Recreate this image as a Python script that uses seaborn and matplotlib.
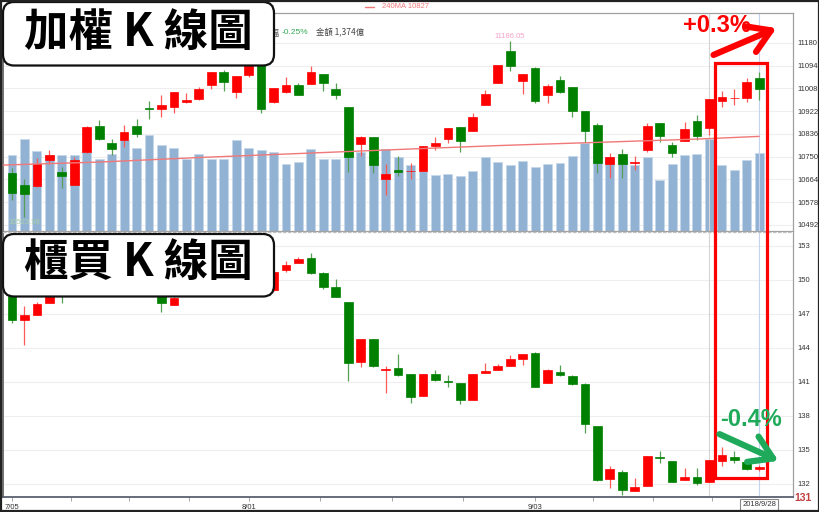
import matplotlib
matplotlib.use('Agg')
import matplotlib.pyplot as plt
import seaborn as sns
import numpy as np
import pandas as pd
from matplotlib.patches import FancyBboxPatch, Rectangle, FancyArrowPatch

sns.set_theme(style='white')
plt.rcParams['font.family'] = ['Liberation Sans', 'Noto Sans CJK TC', 'DejaVu Sans']

# ---------------- data ----------------
x_labels = ['7/05', '8/01', '9/03']
x_label_pos = [0, 19, 42]
last_date = '2018/9/28'

twse_open = [10689.7, 10644.3, 10639.4, 10737.7, 10692.3, 10644.3, 10769.1, 10866.2, 10800.8, 10812.2,
             10866.2, 10932.4, 10930.5, 10938.0, 10957.0, 10968.3, 11022.3, 11069.2, 10995.9, 11059.0,
             11108.1, 10955.8, 10994.7, 11022.3, 11026.1, 11062.8, 11006.1, 10938.0, 10798.2, 10824.6,
             10664.7, 10699.9, 10695.4, 10697.3, 10790.6, 10818.2, 10863.6, 10848.5, 10945.6, 11027.6,
             11150.9, 11036.3, 11085.5, 10982.3, 11039.0, 11013.6, 10921.8, 10868.9, 10723.7, 10760.4,
             10726.4, 10775.5, 10878.7, 10793.3, 10810.7, 10884.0, 10857.5, 10959.6, 10970.2, 10973.2, 11047.7]
twse_close = [10611.8, 10609.2, 10721.4, 10755.5, 10677.2, 10736.6, 10862.4, 10817.1, 10779.3, 10842.4,
              10834.8, 10930.5, 10944.5, 10993.6, 10963.4, 11006.1, 11071.5, 11032.5, 11055.2, 11096.8,
              10929.3, 11008.7, 11022.3, 10983.4, 11071.5, 11027.6, 10983.4, 10747.9, 10823.5, 10717.7,
              10683.6, 10692.3, 10697.0, 10790.6, 10800.8, 10859.8, 10810.7, 10899.1, 10986.0, 11097.9,
              11093.0, 11062.8, 10960.7, 11018.6, 10994.7, 10922.9, 10848.5, 10725.2, 10750.2, 10722.6,
              10728.3, 10866.2, 10828.4, 10763.0, 10856.0, 10829.6, 10969.4, 10974.7, 10971.3, 11032.5, 11005.0]
twse_high = [10708.6, 10664.7, 10744.1, 10775.5, 10712.4, 10750.2, 10865.0, 10887.8, 10817.1, 10870.0,
             10893.8, 10960.7, 10982.3, 10994.0, 10989.8, 11014.8, 11072.0, 11077.9, 11056.0, 11115.0,
             11120.0, 11009.0, 11050.3, 11027.6, 11093.0, 11063.0, 11029.9, 10938.0, 10828.4, 10825.0,
             10722.6, 10751.0, 10727.5, 10791.0, 10825.8, 10860.0, 10864.0, 10914.2, 11002.3, 11098.0,
             11186.05, 11063.0, 11090.4, 11023.9, 11055.2, 11014.0, 10922.0, 10876.4, 10763.0, 10778.1,
             10752.8, 10876.4, 10879.0, 10806.9, 10882.5, 10906.7, 10970.0, 10999.7, 11005.0, 11048.8, 11069.2]
twse_low = [10586.5, 10523.58, 10636.8, 10722.6, 10633.0, 10642.1, 10766.0, 10815.0, 10756.6, 10785.7,
            10824.6, 10891.5, 10899.1, 10916.5, 10952.0, 10964.5, 11006.1, 10998.5, 10973.2, 11050.3,
            10916.5, 10955.0, 10992.0, 10983.0, 11026.0, 10998.5, 10968.3, 10691.2, 10754.0, 10687.4,
            10605.4, 10677.0, 10664.7, 10697.0, 10775.5, 10800.8, 10769.1, 10848.0, 10945.0, 11027.0,
            11075.3, 10987.2, 10952.0, 10954.3, 10989.8, 10901.4, 10806.9, 10687.4, 10670.8, 10668.5,
            10699.9, 10769.1, 10806.9, 10750.2, 10810.0, 10813.3, 10832.2, 10939.2, 10945.6, 10958.1, 10964.5]
twse_volume = [1333, 1629, 1409, 1333, 1333, 1333, 1397, 1272, 1356, 1606,
               1463, 1695, 1522, 1468, 1261, 1350, 1272, 1272, 1606, 1468,
               1433, 1386, 1172, 1213, 1445, 1272, 1267, 1427, 1386, 1308,
               1445, 1302, 1154, 1053, 981, 1012, 969, 1065, 1302, 1213,
               1160, 1226, 1129, 1183, 1190, 1320, 1547, 1427, 1308, 1284,
               1160, 1297, 904, 1177, 1338, 1356, 1618, 1160, 1083, 1243, 1374]
ma240_pos = [-0.72, 7.1, 15.1, 23.1, 32.0, 39.2, 47.2, 55.2, 60]
ma240_val = [10718.5, 10730.1, 10747.2, 10762.3, 10779.3, 10792.5, 10804.6, 10817.1, 10827]

otc_open = [149.36, 146.42, 146.89, 147.92, 149.2, 148.7, 149.3, 150.2, 149.8, 150.3,
            150.6, 150.1, 149.6, 147.74, 148.6, 149.3, 149.8, 150.4, 150.0, 150.3,
            150.9, 149.09, 150.85, 151.5, 151.89, 150.56, 149.33, 148.06, 142.72, 144.75,
            142.07, 142.25, 141.67, 139.75, 141.69, 141.03, 140.87, 139.37, 141.75, 142.04,
            142.4, 143.01, 143.52, 140.87, 141.87, 141.52, 140.81, 137.14, 132.47, 133.03,
            131.41, 131.85, 134.38, 134.05, 132.35, 132.59, 132.2, 134.05, 134.41, 133.96, 133.3]
otc_close = [146.45, 146.86, 147.83, 148.6, 148.7, 149.3, 150.2, 149.8, 150.3, 150.6,
             150.1, 149.6, 147.95, 148.36, 149.3, 149.8, 150.4, 150.0, 150.3, 150.9,
             149.1, 150.7, 151.3, 151.8, 150.56, 149.38, 148.45, 142.63, 144.75, 142.4,
             142.1, 141.58, 139.69, 141.69, 141.16, 141.0, 139.4, 141.69, 141.96, 142.4,
             142.99, 143.45, 140.57, 142.04, 141.6, 140.81, 137.29, 132.35, 133.3, 131.47,
             131.76, 134.47, 134.32, 132.2, 132.59, 132.06, 134.11, 134.56, 134.11, 133.3, 133.52]
otc_high = [149.6, 147.71, 148.0, 148.8, 149.4, 149.5, 150.4, 150.5, 150.5, 150.8,
            150.8, 150.3, 149.8, 148.5, 149.5, 150.0, 150.6, 150.6, 150.5, 151.1,
            151.0, 150.8, 151.67, 151.97, 152.33, 150.65, 150.04, 148.06, 144.75, 144.75,
            142.42, 143.43, 141.7, 141.7, 142.04, 141.6, 140.9, 141.69, 142.69, 142.57,
            143.37, 143.45, 143.6, 142.1, 142.48, 141.63, 140.93, 137.14, 133.59, 133.23,
            132.5, 134.47, 134.91, 134.05, 133.44, 133.38, 134.11, 135.23, 134.91, 134.18, 133.65]
otc_low = [146.2, 144.25, 146.89, 147.9, 147.97, 148.6, 149.2, 149.6, 149.7, 150.2,
           149.9, 149.4, 147.18, 147.74, 148.55, 149.2, 149.7, 149.8, 149.9, 150.2,
           149.0, 149.0, 150.7, 151.45, 150.48, 149.15, 148.45, 141.07, 142.33, 142.28,
           139.99, 141.5, 139.11, 139.75, 141.07, 140.57, 139.05, 139.37, 141.75, 142.04,
           142.4, 142.48, 140.52, 140.87, 141.52, 140.72, 136.47, 132.29, 131.62, 131.03,
           131.41, 131.85, 133.88, 132.15, 132.35, 131.91, 132.2, 133.59, 133.88, 133.23, 133.17]

top_ticks = [10492, 10578, 10664, 10750, 10836, 10922, 11008, 11094, 11180]
bot_ticks = [132, 135, 138, 141, 144, 147, 150, 153]
minor_tick_pos = [4.74, 9.39, 14.21, 24.73, 30.51, 36.21, 46.65, 51.47, 56.2]

# ---------------- layout ----------------
W, H = 820, 512
fig = plt.figure(figsize=(8.2, 5.12), dpi=100)
fig.patch.set_facecolor('white')


def rect(x0, y0, x1, y1):
    return [x0 / W, 1 - y1 / H, (x1 - x0) / W, (y1 - y0) / H]


XLIM = (-0.723, 62.71)
TOP_YLIM = (10469.3, 11293.4)
BOT_YLIM = (130.85, 154.2)
VOL_YLIM = (0, 3840)

RED, GREEN = '#ff0000', '#008000'
RED_W, GREEN_W = '#ff5a5a', '#55a055'

n = len(twse_open)
idx = np.arange(n)

ax_vol = fig.add_axes(rect(3, 13, 793, 231))
ax_top = fig.add_axes(rect(3, 13, 793, 231))
ax_bot = fig.add_axes(rect(3, 232, 793, 497))
ax_top.set_facecolor('none')
ax_vol.set_facecolor('white')
ax_bot.set_facecolor('white')

for a in (ax_vol, ax_top, ax_bot):
    a.set_xlim(*XLIM)
ax_top.set_ylim(*TOP_YLIM)
ax_bot.set_ylim(*BOT_YLIM)

# grid for top panel (drawn under the volume bars)
ax_vol.hlines(top_ticks, XLIM[0], XLIM[1], transform=ax_top.transData,
              colors='#eeeeee', lw=0.8, zorder=0)

vol_df = pd.DataFrame({'idx': idx, 'vol': twse_volume})
sns.barplot(data=vol_df, x='idx', y='vol', native_scale=True, color='#92b2d4',
            saturation=1, width=0.72, edgecolor='#c6d7ea', linewidth=0.6,
            errorbar=None, ax=ax_vol, zorder=2)
ax_vol.set_xlim(*XLIM)
ax_vol.set_ylim(*VOL_YLIM)
ax_vol.set_xlabel('')
ax_vol.set_ylabel('')
ax_vol.set_xticks([])
ax_vol.set_yticks([])
for s in ax_vol.spines.values():
    s.set_visible(False)


def draw_candles(ax, o, h, l, c):
    o, h, l, c = map(np.asarray, (o, h, l, c))
    up = c >= o
    col = np.where(up, RED, GREEN)
    wcol = np.where(up, RED_W, GREEN_W)
    ax.vlines(idx, l, h, colors=wcol, lw=0.9, zorder=3)
    ax.bar(idx, np.abs(c - o), bottom=np.minimum(o, c), width=0.7,
           color=col, edgecolor=col, lw=0.5, zorder=4)


# vertical marker lines
for a in (ax_top, ax_bot):
    a.axvline(56, color='#d5d5d5', lw=0.8, zorder=1)
    a.axvline(60, color='#c5d3f0', lw=0.8, zorder=1)

draw_candles(ax_top, twse_open, twse_high, twse_low, twse_close)
sns.lineplot(x=ma240_pos, y=ma240_val, ax=ax_top, color='#f07878', lw=1.0, zorder=5)

hi_i = int(np.argmax(twse_high))
lo_i = int(np.argmin(twse_low))
ax_top.annotate(f'{twse_high[hi_i]:.2f}', xy=(hi_i, twse_high[hi_i]), xytext=(0, 1.2),
                textcoords='offset points', ha='center', va='bottom', fontsize=5.5, color='#f5a3c8')
ax_top.annotate(f'{twse_low[lo_i]:.2f}', xy=(lo_i, twse_low[lo_i]), xytext=(0, -1.5),
                textcoords='offset points', ha='center', va='top', fontsize=5.5, color='#a9cfa9')

ax_top.set_yticks(top_ticks)
ax_top.set_yticklabels([str(t) for t in top_ticks])
ax_top.yaxis.tick_right()
ax_top.tick_params(axis='y', length=0, pad=3, labelsize=5.5, labelcolor='#333333')
ax_top.set_xticks([])
ax_top.set_xlabel('')
ax_top.set_ylabel('')
for k, s in ax_top.spines.items():
    s.set_visible(True)
    s.set_color('#a0a0a0')
    s.set_linewidth(0.9)
ax_top.spines['left'].set_color('#666666')
ax_top.spines['left'].set_linewidth(1.3)

# bottom panel
draw_candles(ax_bot, otc_open, otc_high, otc_low, otc_close)
ax_bot.set_yticks(bot_ticks)
ax_bot.set_yticklabels([str(t) for t in bot_ticks])
ax_bot.yaxis.tick_right()
ax_bot.tick_params(axis='y', length=0, pad=3, labelsize=5.5, labelcolor='#333333')
ax_bot.yaxis.grid(True, color='#eeeeee', lw=0.8)
ax_bot.set_axisbelow(True)
ax_bot.set_xticks(x_label_pos)
ax_bot.set_xticklabels(x_labels)
ax_bot.set_xticks(minor_tick_pos, minor=True)
ax_bot.tick_params(axis='x', which='both', bottom=True, length=3, width=0.6, color='#999999',
                   direction='out', pad=2, labelsize=5.5, labelcolor='#333333')
for k, s in ax_bot.spines.items():
    s.set_visible(True)
    s.set_color('#a0a0a0')
    s.set_linewidth(0.9)
ax_bot.spines['top'].set_linestyle((0, (2, 2)))
ax_bot.spines['top'].set_color('#c0c0c0')
ax_bot.spines['left'].set_color('#666666')
ax_bot.spines['left'].set_linewidth(1.3)
ax_bot.spines['bottom'].set_color('#5a6070')
ax_bot.spines['bottom'].set_linewidth(1.3)
ax_bot.text(60, -0.03, last_date, transform=ax_bot.get_xaxis_transform(), ha='center', va='center',
            fontsize=5.5, color='#333333',
            bbox=dict(boxstyle='square,pad=0.3', fc='white', ec='#888888', lw=0.8))

# ---------------- overlay annotations (pixel coordinates) ----------------
ov = fig.add_axes([0, 0, 1, 1])
ov.set_xlim(0, W)
ov.set_ylim(H, 0)
ov.axis('off')
ov.set_zorder(10)
ov.patch.set_alpha(0)

CJK = ['Noto Sans CJK TC', 'DejaVu Sans']

# header texts
ov.plot([365, 374], [6.5, 6.5], color='#f07878', lw=1)
ov.text(382, 6.5, f'240MA {ma240_val[-1]:.0f}', color='#f07878', fontsize=5.5, va='center', ha='left')
ov.text(280, 33, '漲跌幅', color='#555555', fontsize=6, va='center', ha='right', family=CJK, zorder=0.5)
pct = (twse_close[-1] / twse_close[-2] - 1) * 100
ov.text(282, 33, f'{pct:.2f}%', color='#33aa55', fontsize=6, va='center', ha='left')
ov.text(316, 33, f'金額 {twse_volume[-1]:,}億', color='#444444', fontsize=6, va='center', ha='left', family=CJK)

# title boxes
for (y0, hgt, label, ty) in [(2, 63.5, '加權 K 線圖', 32.5), (234, 62.5, '櫃買 K 線圖', 263)]:
    ov.add_patch(FancyBboxPatch((3, y0), 271, hgt, boxstyle='round,pad=0,rounding_size=11',
                                fc='white', ec='#111111', lw=1.6, zorder=2))
    ov.text(138, ty, label, ha='center', va='center', fontsize=32, fontweight='black',
            family=CJK, color='black', zorder=3)

# red highlight box
ov.add_patch(Rectangle((715, 63), 52, 415, fill=False, ec='#ff0000', lw=2.3, zorder=4))

ov.text(683, 26, '+0.3%', color='#ff0000', fontsize=17, fontweight='bold', ha='left', va='center', zorder=5)
ov.add_patch(FancyArrowPatch((711, 56), (779, 27), arrowstyle='->,head_length=0.8,head_width=0.5',
                             mutation_scale=20, lw=4.5, color='#ff0000', zorder=5))
ov.text(720, 420, '-0.4%', color='#1eaa5a', fontsize=17, fontweight='bold', ha='left', va='center', zorder=5)
ov.add_patch(FancyArrowPatch((717, 433), (781, 462), arrowstyle='->,head_length=0.8,head_width=0.5',
                             mutation_scale=20, lw=4.5, color='#1eaa5a', zorder=5))

ov.text(794, 498, '131', color='#c04040', fontsize=7.5, fontweight='bold', ha='left', va='center')

# outer frame
ov.add_patch(Rectangle((0.8, 0.8), W - 1.6, H - 1.6, fill=False, ec='#222222', lw=1.6, zorder=6))

fig.savefig('out.png', dpi=100, facecolor='white')
